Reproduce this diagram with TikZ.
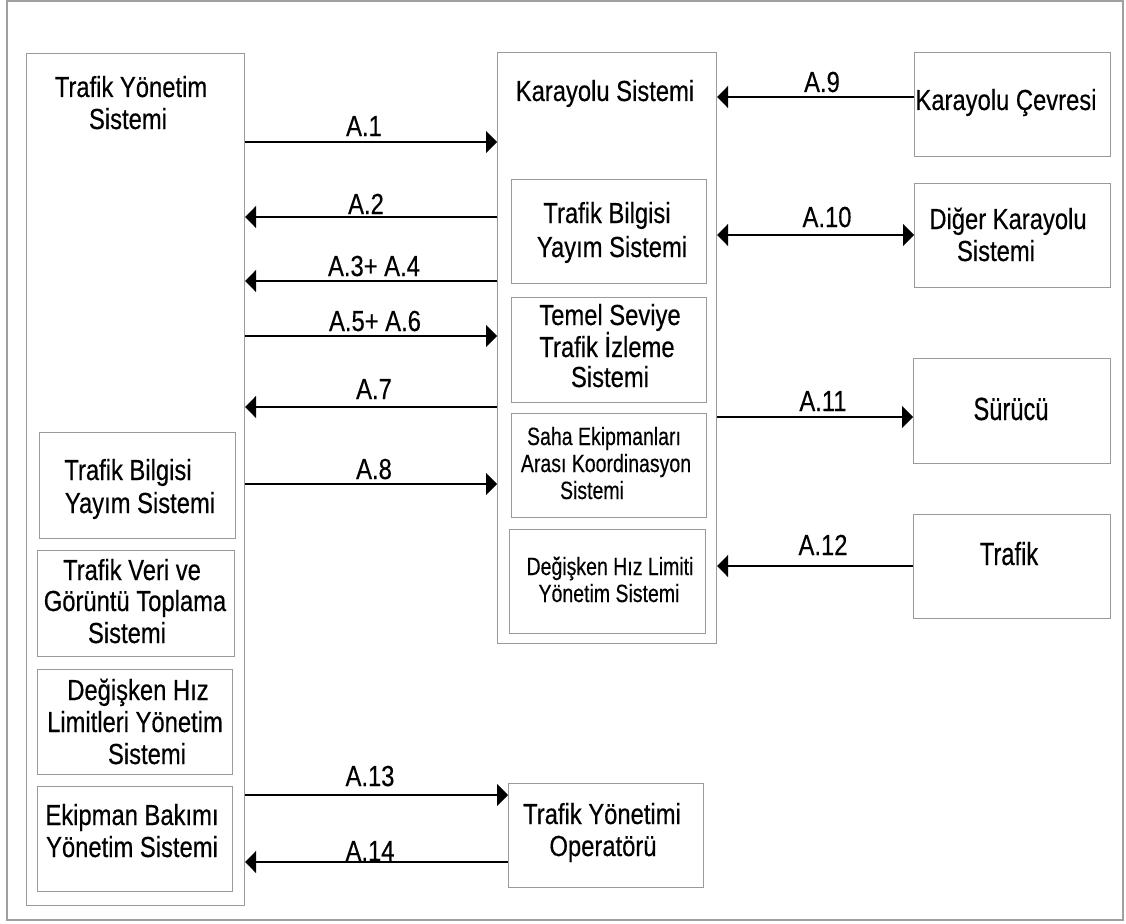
\documentclass[tikz,border=0pt]{standalone}
\usepackage{fontspec}
\setmainfont{Liberation Sans}[FakeStretch=0.82, FakeBold=0.4]
\newfontfamily\tallfont{Liberation Sans}[FakeStretch=0.74, FakeBold=0.4]
\newfontfamily\smallfont{Liberation Sans}[FakeStretch=0.78, FakeBold=0.3]
\usetikzlibrary{arrows.meta}
\definecolor{frame}{HTML}{A0A0A0}
\definecolor{boxline}{HTML}{9A9A9A}
\tikzset{
  box/.style={draw=boxline, line width=1.1pt, fill=white, inner sep=0pt, anchor=north west},
  txt/.style={anchor=base, inner sep=0pt, font=\fontsize{29}{32}\selectfont},
  talltxt/.style={anchor=base, inner sep=0pt, font=\tallfont\fontsize{32}{32}\selectfont},
  smalltxt/.style={anchor=base, inner sep=0pt, font=\smallfont\fontsize{25}{27}\selectfont},
  lbl/.style={anchor=base, inner sep=0pt, font=\fontsize{29}{32}\selectfont},
  flow/.style={draw=black, line width=1.3pt, -{Triangle[length=11pt,width=22pt]}},
  flowback/.style={draw=black, line width=1.3pt, {Triangle[length=11pt,width=22pt]}-},
  flowboth/.style={draw=black, line width=1.3pt, {Triangle[length=11pt,width=22pt]}-{Triangle[length=11pt,width=22pt]}}
}
% box with top-left corner (#2,#3) and bottom-right corner (#4,#5)
\newcommand{\bx}[5]{%
  \pgfmathsetmacro{\bw}{#4-#2}\pgfmathsetmacro{\bh}{#5-#3}%
  \node[box, minimum width=\bw pt, minimum height=\bh pt] (#1) at (#2,#3) {};}
\begin{document}
\begin{tikzpicture}[x=1pt,y=-1pt]
\useasboundingbox (0,0) rectangle (1126,923);
\draw[frame, line width=2pt] (7,1) rectangle (1123,920);

% container boxes
\bx{tms}{26}{53}{244}{905}
\bx{ks}{497}{52}{716}{643}

% inner boxes of the road system
\bx{kbilgi}{511}{179}{706}{283}
\bx{temel}{511}{297}{706}{402}
\bx{saha}{511}{413}{706}{517}
\bx{dhiz}{509}{529}{705}{633}

% external boxes
\bx{kcevre}{914}{52}{1110}{156}
\bx{diger}{914}{183}{1110}{287}
\bx{surucu}{913}{358}{1110}{463}
\bx{trafik}{913}{514}{1110}{618}
\bx{oper}{508}{783}{703}{887}

% inner boxes of the traffic management system
\bx{lbilgi}{39}{432}{235}{538}
\bx{lveri}{37}{550}{234}{656}
\bx{lhiz}{37}{669}{232}{774}
\bx{lbakim}{37}{786}{232}{891}

% box texts
\node[txt] (tms1) at (131,97) {Trafik Yönetim};
\node[txt] (tms2) at (128,129) {Sistemi};
\node[txt] (ks1) at (605,101) {Karayolu Sistemi};
\node[txt] (kb1) at (607,223) {Trafik Bilgisi};
\node[txt] (kb2) at (612,257) {Yayım Sistemi};
\node[txt] (te1) at (610,325) {Temel Seviye};
\node[txt] (te2) at (607,357) {Trafik İzleme};
\node[txt] (te3) at (610,387) {Sistemi};
\node[smalltxt] (sa1) at (604,445) {Saha Ekipmanları};
\node[smalltxt] (sa2) at (606,472) {Arası Koordinasyon};
\node[smalltxt] (sa3) at (592,499) {Sistemi};
\node[smalltxt] (dh1) at (610,575) {Değişken Hız Limiti};
\node[smalltxt] (dh2) at (609,602) {Yönetim Sistemi};
\node[txt] (kc1) at (1006,110) {Karayolu Çevresi};
\node[txt] (dg1) at (1008,229) {Diğer Karayolu};
\node[txt] (dg2) at (996,261) {Sistemi};
\node[talltxt] (su1) at (1011,420) {Sürücü};
\node[talltxt] (tr1) at (1009,565) {Trafik};
\node[txt] (op1) at (602,824) {Trafik Yönetimi};
\node[txt] (op2) at (603,856) {Operatörü};
\node[txt] (lb1) at (128,480) {Trafik Bilgisi};
\node[txt] (lb2) at (140,513) {Yayım Sistemi};
\node[txt] (lv1) at (132,580) {Trafik Veri ve};
\node[txt] (lv2) at (135,611) {Görüntü Toplama};
\node[txt] (lv3) at (127,643) {Sistemi};
\node[txt] (lh1) at (138,700) {Değişken Hız};
\node[txt] (lh2) at (135,732) {Limitleri Yönetim};
\node[txt] (lh3) at (147,764) {Sistemi};
\node[txt] (lk1) at (132,825) {Ekipman Bakımı};
\node[txt] (lk2) at (132,857) {Yönetim Sistemi};

% flows between the management system and the road system
\draw[flow]     (tms.east |- 0,142) -- (ks.west |- 0,142);
\draw[flowback] (tms.east |- 0,217) -- (ks.west |- 0,217);
\draw[flowback] (tms.east |- 0,281) -- (ks.west |- 0,281);
\draw[flow]     (tms.east |- 0,336) -- (ks.west |- 0,336);
\draw[flowback] (tms.east |- 0,407) -- (ks.west |- 0,407);
\draw[flow]     (tms.east |- 0,484) -- (ks.west |- 0,484);
\draw[flow]     (tms.east |- 0,795) -- (oper.west |- 0,795);
\draw[flowback] (tms.east |- 0,862) -- (oper.west |- 0,862);

% flows between the road system and the outside
\draw[flowback] (ks.east |- 0,97)  -- (kcevre.west |- 0,97);
\draw[flowboth] (ks.east |- 0,235) -- (diger.west |- 0,235);
\draw[flow]     (ks.east |- 0,417) -- (surucu.west |- 0,417);
\draw[flowback] (ks.east |- 0,566) -- (trafik.west |- 0,566);

% flow labels
\node[lbl] (a1)  at (364,136) {A.1};
\node[lbl] (a2)  at (366,214) {A.2};
\node[lbl] (a34) at (374,276) {A.3+ A.4};
\node[lbl] (a56) at (375,331) {A.5+ A.6};
\node[lbl] (a7)  at (374,399) {A.7};
\node[lbl] (a8)  at (374,479) {A.8};
\node[lbl] (a9)  at (822,92)  {A.9};
\node[lbl] (a10) at (827,227) {A.10};
\node[lbl] (a11) at (823,411) {A.11};
\node[lbl] (a12) at (823,555) {A.12};
\node[lbl] (a13) at (370,786) {A.13};
\node[lbl] (a14) at (370,861) {A.14};
\end{tikzpicture}
\end{document}
